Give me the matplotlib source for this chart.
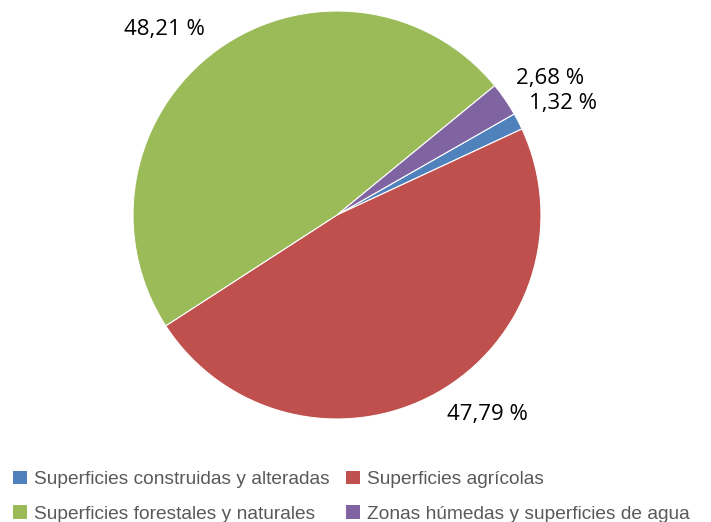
import numpy as np
import matplotlib.pyplot as plt
from matplotlib.patches import Patch

# data
categories = ['Superficies construidas y alteradas', 'Superficies agrícolas',
              'Superficies forestales y naturales', 'Zonas húmedas y superficies de agua']
values = [1.32, 47.79, 48.21, 2.68]
labels = ['1,32 %', '47,79 %', '48,21 %', '2,68 %']
colors = ['#4F81BD', '#C0504D', '#9BBB59', '#8064A2']

fig = plt.figure(figsize=(7.11, 5.22), dpi=100)
ax = fig.add_axes([133/711, 1 - 419/522, 408/711, 408/522])

start = 29.7
wedges, _ = ax.pie(values, colors=colors, startangle=start, counterclock=False,
                   wedgeprops=dict(edgecolor='white', linewidth=0.8))
ax.set_xlim(-1, 1)
ax.set_ylim(-1, 1)
ax.set_aspect('equal')
ax.axis('off')

# label placement: angle offset (deg) and radial distance per slice
offs = [-1.0, 8.0, 6.8, -2.0]
dist = [1.235, 1.225, 1.245, 1.24]
for w, lab, o, d in zip(wedges, labels, offs, dist):
    a = np.deg2rad((w.theta1 + w.theta2) / 2 + o)
    ax.text(d * np.cos(a), d * np.sin(a), lab, ha='center', va='center',
            fontsize=16, family=['Open Sans', 'DejaVu Sans'], color='black')

order = [0, 2, 1, 3]
handles = [Patch(facecolor=colors[i], edgecolor='none') for i in order]
fig.legend(handles, [categories[i] for i in order], ncol=2,
           loc='lower left', bbox_to_anchor=(0.0, -0.027), frameon=False,
           prop={'family': ['Liberation Sans'], 'size': 13.8},
           labelcolor='#595959', handlelength=0.7, handleheight=0.7,
           handletextpad=0.35, columnspacing=0.9, labelspacing=0.9,
           borderaxespad=0.3)

fig.savefig('out.png', dpi=100)
